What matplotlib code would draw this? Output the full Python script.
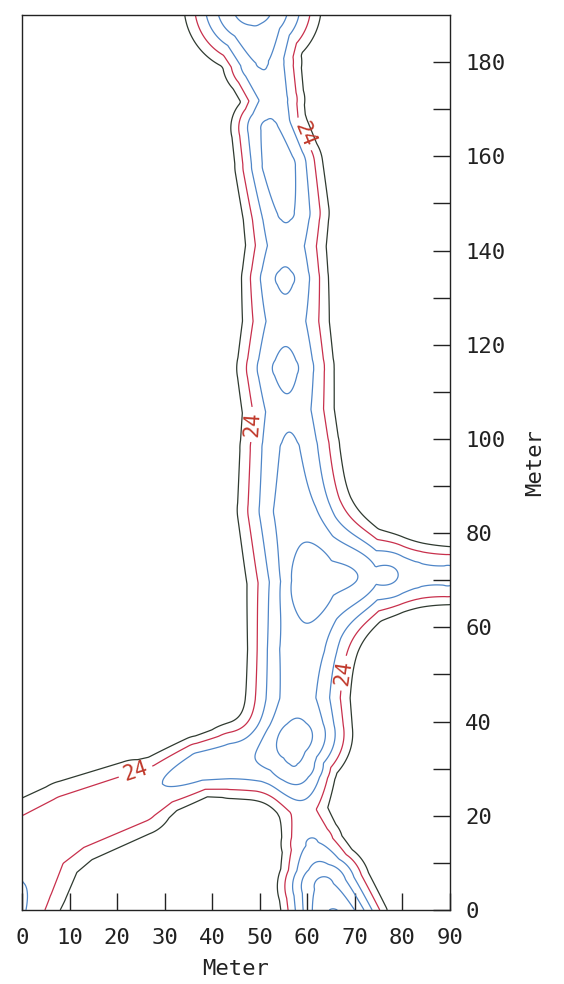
#
# Mapa de contorno (scan antigo): canais em forma de Y, curva de nível 24 rotulada
#
import numpy as np
import matplotlib
matplotlib.use("Agg")
import matplotlib.pyplot as plt
from matplotlib.ticker import MultipleLocator, FuncFormatter

# níveis desenhados e a cor da pena de cada um
levels = [22, 24, 26, 28, 30, 32]
level_colors = ['#2f3a30', '#c8304c', '#4f86c8', '#4f86c8', '#4f86c8', '#4f86c8']
fundo = 12.0

# cristas: x, y (metros), altura da crista acima do fundo, meia largura
norte_x = [47.5, 48.5, 50.5, 53.0, 52.0, 54.0, 55.5, 55.5, 55.3, 55.5, 55.4, 56.0, 56.3, 56.8, 59.0, 58.5, 58.0, 58.2, 58.5, 59.3, 61.0, 63.5, 66.0]
norte_y = [200, 192, 180, 172, 166, 158, 148, 141, 134, 125, 115, 106, 98, 85, 70, 55, 45, 37.5, 31, 21, 14, 5, -3]
norte_amp = [19.5, 19.0, 16.2, 15.2, 16.4, 17.3, 16.3, 15.3, 16.4, 15.3, 16.6, 15.6, 16.3, 16.8, 15.8, 17.2, 17.0, 18.4, 16.3, 12.6, 14.2, 18.5, 21.0]
norte_larg = [20, 18, 12, 10, 11.5, 12.5, 13, 13, 13, 14, 14.4, 14.5, 15, 16, 17, 15, 15, 14.5, 11, 10, 11, 12.5, 13]

leste_x = [66, 70, 75, 80, 84, 90, 100]
leste_y = [70.7, 71, 71.2, 71.3, 71.2, 71, 71]
leste_amp = [1.0, 5.3, 9.4, 12.2, 12.9, 14.1, 15.0]
leste_larg = [12, 12, 11.5, 11, 10.5, 9.8, 9.5]

sudoeste_x = [54, 44, 37.4, 29.6, 24, 10, 3, 0, -4]
sudoeste_y = [31.5, 31.5, 30.5, 26.8, 23.8, 18.5, 14, 6, -2]
sudoeste_amp = [15.0, 15.3, 15.3, 14.0, 13.8, 13.8, 13.8, 14.0, 15.2]
sudoeste_larg = [13, 12, 10, 11, 14.3, 16, 18, 17, 15]

# bolsão fechado no cruzamento: x, y, altura, raio em x, raio em y
bolsao_x = [59.5]
bolsao_y = [69.0]
bolsao_amp = [1.5]
bolsao_rx = [4.2]
bolsao_ry = [5.5]


def crista(X, Y, xs, ys, amp, larg):
    campo = np.zeros_like(X)
    for i in range(len(xs) - 1):
        dx = xs[i + 1] - xs[i]
        dy = ys[i + 1] - ys[i]
        t = ((X - xs[i]) * dx + (Y - ys[i]) * dy) / (dx * dx + dy * dy)
        t = np.clip(t, 0, 1)
        d = np.hypot(X - xs[i] - t * dx, Y - ys[i] - t * dy)
        a = amp[i] + (amp[i + 1] - amp[i]) * t
        w = larg[i] + (larg[i + 1] - larg[i]) * t
        campo = np.maximum(campo, a * np.exp(-(d / w) ** 2))
    return campo


gx = np.linspace(0, 90, 361)
gy = np.linspace(0, 190, 761)
X, Y = np.meshgrid(gx, gy)

# norte + leste somam (cantos arredondados), o ramo sudoeste entra por p-norma
p = 4
ne = crista(X, Y, norte_x, norte_y, norte_amp, norte_larg) + crista(X, Y, leste_x, leste_y, leste_amp, leste_larg)
sw = crista(X, Y, sudoeste_x, sudoeste_y, sudoeste_amp, sudoeste_larg)
Z = fundo + (ne ** p + sw ** p) ** (1.0 / p)
for bx, by, ba, rx, ry in zip(bolsao_x, bolsao_y, bolsao_amp, bolsao_rx, bolsao_ry):
    Z = Z + ba * np.exp(-((X - bx) / rx) ** 2 - ((Y - by) / ry) ** 2)

plt.rcParams['font.family'] = 'DejaVu Sans Mono'

fig = plt.figure(figsize=(5.64, 9.84), dpi=100)
ax = fig.add_axes([22 / 564, 74 / 984, 428 / 564, 895 / 984])

outros = [lv for lv in levels if lv != 24]
outras_cores = [c for lv, c in zip(levels, level_colors) if lv != 24]
ax.contour(X, Y, Z, levels=outros, colors=outras_cores, linewidths=0.9)
cs24 = ax.contour(X, Y, Z, levels=[24], colors=[level_colors[1]], linewidths=0.9)
rotulos = [(24, 29), (49.5, 103), (62.5, 166), (69.5, 50)]
ax.clabel(cs24, manual=rotulos, fmt='%d', fontsize=15, colors='#c0392b', inline=True)

ax.set_xlim(0, 90)
ax.set_ylim(0, 190)
ax.xaxis.set_major_locator(MultipleLocator(10))
ax.set_yticks(np.arange(0, 190, 10))
ax.yaxis.set_major_formatter(FuncFormatter(lambda v, pos: '%d' % v if v % 20 == 0 else ''))
ax.yaxis.tick_right()
ax.yaxis.set_label_position('right')
ax.tick_params(direction='in', length=12, width=1, labelsize=16, colors='#222222')
ax.tick_params(axis='x', pad=13)
ax.tick_params(axis='y', pad=11)
for s in ax.spines.values():
    s.set_linewidth(1)
    s.set_color('#222222')

ax.set_xlabel('Meter', fontsize=16, labelpad=8, color='#222222')
ax.set_ylabel('Meter', fontsize=16, labelpad=14, color='#222222', rotation=90)

plt.savefig('out.png', dpi=100)
